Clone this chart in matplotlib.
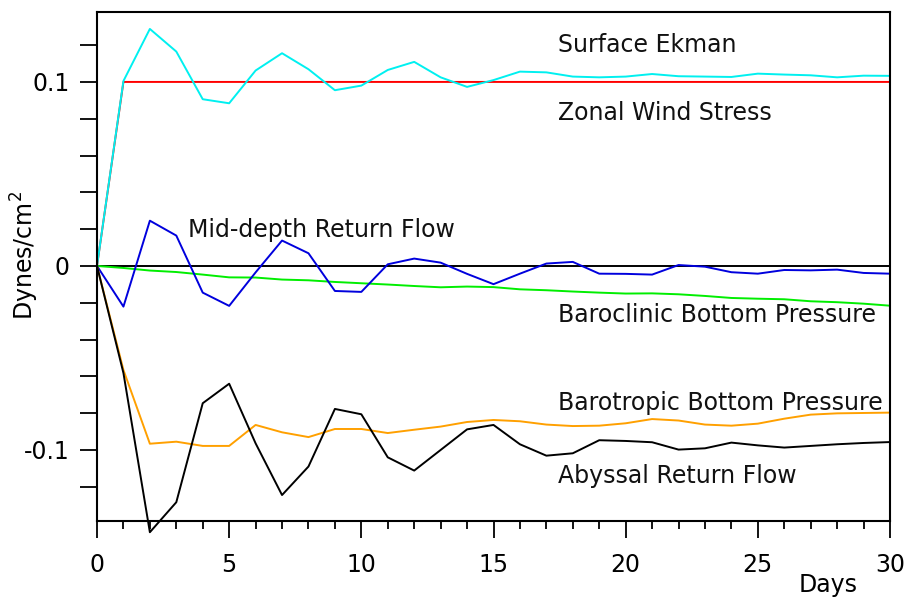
import numpy as np
import matplotlib
matplotlib.use('Agg')
import matplotlib.pyplot as plt

# days 0..30
days = np.arange(0, 31)

zonal_wind = [0.0] + [0.1] * 30

surface_ekman = [0.0, 0.1005, 0.1288, 0.1165, 0.0906, 0.0884, 0.1062, 0.1156, 0.1069, 0.0955,
                 0.0980, 0.1065, 0.1109, 0.1025, 0.0973, 0.1010, 0.1056, 0.1052, 0.1029, 0.1025,
                 0.1029, 0.1043, 0.1031, 0.1029, 0.1027, 0.1045, 0.1040, 0.1036, 0.1025, 0.1034,
                 0.1033]

mid_depth = [0.0, -0.0221, 0.0246, 0.0165, -0.0145, -0.0217, -0.0035, 0.0138, 0.0069, -0.0136,
             -0.0141, 0.0009, 0.0040, 0.0018, -0.0043, -0.0099, -0.0042, 0.0013, 0.0022, -0.0042,
             -0.0043, -0.0047, 0.0005, -0.0004, -0.0034, -0.0042, -0.0022, -0.0024, -0.0020, -0.0038,
             -0.0042]

baroclinic = [0.0, -0.0011, -0.0025, -0.0033, -0.0047, -0.0062, -0.0063, -0.0074, -0.0078, -0.0087,
              -0.0094, -0.0101, -0.0109, -0.0116, -0.0112, -0.0115, -0.0127, -0.0132, -0.0139, -0.0145,
              -0.0150, -0.0149, -0.0154, -0.0163, -0.0174, -0.0178, -0.0181, -0.0192, -0.0197, -0.0205,
              -0.0216]

barotropic = [0.0, -0.0565, -0.0966, -0.0955, -0.0978, -0.0978, -0.0864, -0.0904, -0.0930, -0.0886,
              -0.0886, -0.0908, -0.0890, -0.0873, -0.0848, -0.0837, -0.0844, -0.0862, -0.0870, -0.0868,
              -0.0855, -0.0832, -0.0840, -0.0862, -0.0868, -0.0857, -0.0830, -0.0808, -0.0801, -0.0799,
              -0.0797]

abyssal = [0.0, -0.0582, -0.1447, -0.1284, -0.0746, -0.0640, -0.0964, -0.1245, -0.1090, -0.0777,
           -0.0806, -0.1040, -0.1112, -0.1000, -0.0888, -0.0864, -0.0969, -0.1031, -0.1018, -0.0947,
           -0.0951, -0.0958, -0.0998, -0.0991, -0.0960, -0.0975, -0.0987, -0.0978, -0.0969, -0.0962,
           -0.0957]

fig = plt.figure(figsize=(9.09, 5.97), dpi=100)
ax = fig.add_axes([97 / 909, 76 / 597, 793 / 909, 509 / 597])

lw = 1.4
ax.axhline(0, color='black', lw=lw, zorder=1)
ax.plot(days, zonal_wind, color='#ff0000', lw=lw)
ax.plot(days, surface_ekman, color='#00f0f0', lw=lw)
ax.plot(days, baroclinic, color='#00ee00', lw=lw)
ax.plot(days, mid_depth, color='#0000dd', lw=lw)
ax.plot(days, barotropic, color='#ffa000', lw=lw)
ax.plot(days, abyssal, color='black', lw=lw, clip_on=False)

fs = 17
labels = [
    (17.44, 0.1201, 'Surface Ekman'),
    (17.44, 0.0832, 'Zonal Wind Stress'),
    (3.44, 0.0196, 'Mid-depth Return Flow'),
    (17.44, -0.0266, 'Baroclinic Bottom Pressure'),
    (17.44, -0.0745, 'Barotropic Bottom Pressure'),
    (17.44, -0.1140, 'Abyssal Return Flow'),
]
for x, y, s in labels:
    ax.text(x, y, s, fontsize=fs, ha='left', va='center', color='#111111')

ax.set_xlim(0, 30)
ax.set_ylim(-0.1386, 0.138)

ax.set_xticks(np.arange(0, 31, 5))
ax.set_xticks(np.arange(0, 31, 1), minor=True)
ax.tick_params(axis='x', which='major', direction='out', length=12, width=1.3, labelsize=fs, pad=11)
ax.tick_params(axis='x', which='minor', direction='out', length=6, width=1.3)

yt = np.round(np.arange(-0.12, 0.121, 0.02), 2)
ax.set_yticks(yt)
ax.set_yticklabels(['0.1' if abs(v - 0.1) < 1e-9 else '0' if abs(v) < 1e-9 else '-0.1' if abs(v + 0.1) < 1e-9 else '' for v in yt])
ax.tick_params(axis='y', direction='out', length=12.5, width=1.3, labelsize=fs, pad=7)

for sp in ax.spines.values():
    sp.set_linewidth(1.5)

ax.text((828 - 97) / 793, (521 - 585) / 509, 'Days', transform=ax.transAxes,
        fontsize=fs, ha='center', va='center')
fig.text(25 / 909, 1 - 255 / 597, 'Dynes/cm$^2$', rotation=90, fontsize=fs,
         ha='center', va='center')

fig.savefig('out.png', dpi=100)
